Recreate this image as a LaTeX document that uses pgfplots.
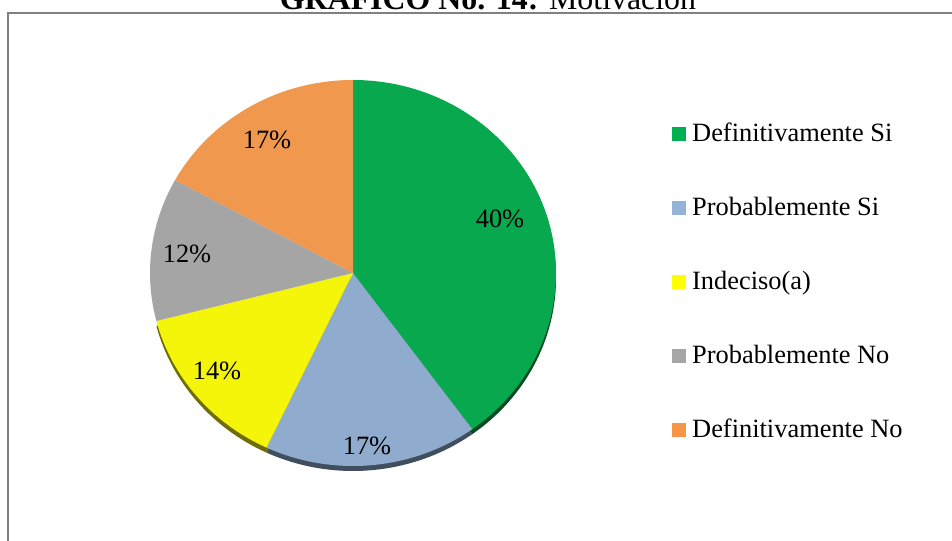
\documentclass[border=0pt]{standalone}
\usepackage{fontspec}
\setmainfont{Liberation Serif}
\usepackage{pgfplots}
\usepackage{pgfplotstable}
\pgfplotsset{compat=1.18}

% pie colours
\definecolor{c0}{RGB}{8,168,78}
\definecolor{c1}{RGB}{143,172,206}
\definecolor{c2}{RGB}{245,245,10}
\definecolor{c3}{RGB}{165,165,165}
\definecolor{c4}{RGB}{240,152,78}
% legend colours
\definecolor{l0}{RGB}{0,176,80}
\definecolor{l1}{RGB}{149,179,215}
\definecolor{l2}{RGB}{255,255,0}
\definecolor{l3}{RGB}{166,166,166}
\definecolor{l4}{RGB}{247,150,70}
\definecolor{frame}{RGB}{128,128,128}

\pgfplotstableread[col sep=comma]{
label,value
Definitivamente Si,40
Probablemente Si,17
Indeciso(a),14
Probablemente No,12
Definitivamente No,17
}\piedata

\begin{document}
\begin{tikzpicture}
% start / end angles of each slice from the table (clockwise from the top)
\def\cumul{0}
\pgfplotsforeachungrouped \i in {0,...,4}{%
  \pgfplotstablegetelem{\i}{value}\of\piedata
  \pgfmathsetmacro{\sa}{90-3.6*\cumul}%
  \pgfmathsetmacro{\cumul}{\cumul+\pgfplotsretval}%
  \pgfmathsetmacro{\ea}{90-3.6*\cumul}%
  \expandafter\xdef\csname sa\i\endcsname{\sa}%
  \expandafter\xdef\csname ea\i\endcsname{\ea}%
}
\begin{axis}[
  width=952bp, height=541bp, scale only axis,
  xmin=0, xmax=952, ymin=0, ymax=541,
  hide axis, clip=false,
  legend image code/.code={\fill[#1, draw=none] (0bp,-7bp) rectangle (14bp,7bp);},
  legend style={draw=none, fill=none, at={(axis cs:669,422)}, anchor=north west,
    font=\fontsize{26.5}{30}\selectfont,
    nodes={inner sep=0pt, text height=20bp, text depth=6bp},
    row sep=48bp, column sep=6bp},
  legend cell align=left,
]
% 3D rim (visible along the lower edge)
\pgfplotsinvokeforeach{0,1,2}{%
  \fill[c#1!45!black] (axis cs:353,263) -- ++(\csname sa#1\endcsname:203bp and 193bp)
    arc[start angle=\csname sa#1\endcsname, end angle=\csname ea#1\endcsname,
        x radius=203bp, y radius=193bp] -- cycle;
}
% slices
\pgfplotsinvokeforeach{0,...,4}{%
  \fill[c#1] (axis cs:353,268) -- ++(\csname sa#1\endcsname:203bp and 193bp)
    arc[start angle=\csname sa#1\endcsname, end angle=\csname ea#1\endcsname,
        x radius=203bp, y radius=193bp] -- cycle;
}
\addlegendimage{fill=l0}\addlegendentry{Definitivamente Si}
\addlegendimage{fill=l1}\addlegendentry{Probablemente Si}
\addlegendimage{fill=l2}\addlegendentry{Indeciso(a)}
\addlegendimage{fill=l3}\addlegendentry{Probablemente No}
\addlegendimage{fill=l4}\addlegendentry{Definitivamente No}

\begin{scope}[every node/.style={font=\fontsize{26.5}{30}\selectfont, inner sep=0pt}]
\node at (axis cs:500,322) {40\%};
\node at (axis cs:367,95) {17\%};
\node at (axis cs:217,170) {14\%};
\node at (axis cs:187,287) {12\%};
\node at (axis cs:267,401) {17\%};
\end{scope}

% frame
\draw[frame, line width=2bp] (axis cs:7.5,-10) -- (axis cs:7.5,527.5) -- (axis cs:970,527.5);
% title (cut by the top edge, as in the reference)
\node[anchor=base, inner sep=0pt, font=\fontsize{32}{36}\selectfont] at (axis cs:488,531.5)
  {\textbf{GRÁFICO No. 14:} Motivación};
\end{axis}
\pgfresetboundingbox
\path[use as bounding box] (current axis.south west) rectangle (current axis.north east);
\end{tikzpicture}
\end{document}
